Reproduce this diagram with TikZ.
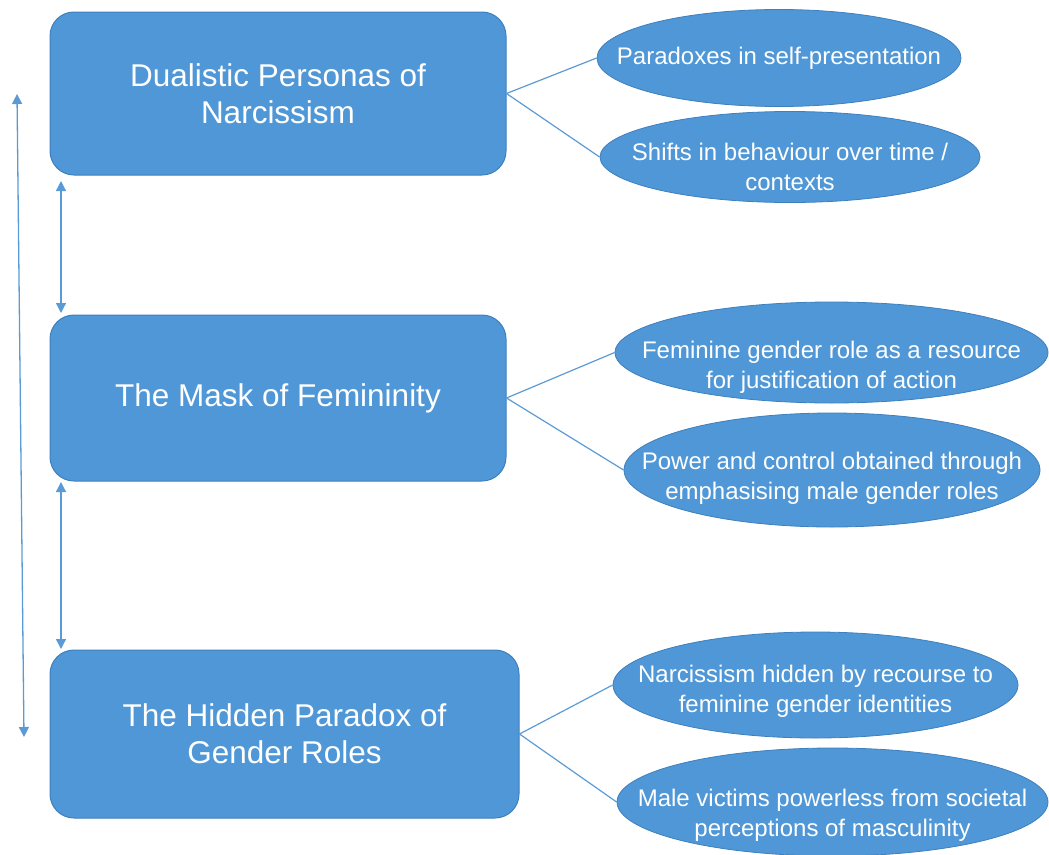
\documentclass[tikz,border=0pt]{standalone}
\usepackage{fontspec}
\setmainfont{Liberation Sans}
\usetikzlibrary{shapes.geometric,arrows.meta}
\definecolor{boxfill}{HTML}{4F97D6}
\definecolor{boxline}{HTML}{3E7FBE}
\definecolor{conn}{HTML}{5B9BD5}
\tikzset{
  mainbox/.style={draw=boxline, line width=1pt, fill=boxfill, rounded corners=24pt, text=white, align=center, font=\fontsize{31.5}{37}\selectfont, inner sep=0pt},
  leaf/.style={ellipse, draw=boxline, line width=0.8pt, fill=boxfill, inner sep=0pt},
  leaftext/.style={text=white, align=center, font=\fontsize{24}{30}\selectfont, inner sep=0pt},
  link/.style={draw=conn, line width=1.2pt},
  dblarrow/.style={draw=conn, line width=1.3pt, {Triangle[width=10pt,length=10pt]}-{Triangle[width=10pt,length=10pt]}}
}
\begin{document}
\begin{tikzpicture}[x=1pt,y=-1pt]
\useasboundingbox (0,0) rectangle (1049,854);
% main boxes
\node[mainbox, minimum width=456pt, minimum height=163pt] (b1) at (278,93.5) {Dualistic Personas of\\Narcissism};
\node[mainbox, minimum width=456pt, minimum height=166pt] (b2) at (278,398) {The Mask of Femininity};
\node[mainbox, minimum width=469pt, minimum height=168pt] (b3) at (284.5,734) {The Hidden Paradox of\\Gender Roles};
% leaves
\node[leaf, minimum width=364pt, minimum height=97pt, label={[leaftext]center:Paradoxes in self-presentation}] (e1) at (779,58) {};
\node[leaf, minimum width=380pt, minimum height=91pt, label={[leaftext, yshift=-10pt]center:{Shifts in behaviour over time /\\contexts}}] (e2) at (790,157) {};
\node[leaf, minimum width=433pt, minimum height=101pt, label={[leaftext, yshift=-15pt]center:{Feminine gender role as a resource\\for justification of action}}] (e3) at (831.5,352.5) {};
\node[leaf, minimum width=416pt, minimum height=114pt, label={[leaftext, yshift=-8pt]center:{Power and control obtained through\\emphasising male gender roles}}] (e4) at (832,470) {};
\node[leaf, minimum width=405pt, minimum height=106pt, label={[leaftext, yshift=-6pt]center:{Narcissism hidden by recourse to\\feminine gender identities}}] (e5) at (815.5,685) {};
\node[leaf, minimum width=431pt, minimum height=108pt, label={[leaftext, yshift=-13pt]center:{Male victims powerless from societal\\perceptions of masculinity}}] (e6) at (832.5,802) {};
% connectors
\draw[link] (b1.east) -- (e1.west);
\draw[link] (b1.east) -- (e2.west);
\draw[link] (b2.east) -- (e3.west);
\draw[link] (b2.east) -- (e4.west);
\draw[link] (b3.east) -- (e5.west);
\draw[link] (b3.east) -- (e6.west);
% vertical arrows
\coordinate (a1t) at (61,181);
\coordinate (a1b) at (61,313);
\coordinate (a2t) at (61,482);
\coordinate (a2b) at (61,649);
\coordinate (ot) at (17,94);
\coordinate (ob) at (24,737);
\draw[dblarrow] (a1t) -- (a1b);
\draw[dblarrow] (a2t) -- (a2b);
\draw[dblarrow] (ot) -- (ob);
\end{tikzpicture}
\end{document}
